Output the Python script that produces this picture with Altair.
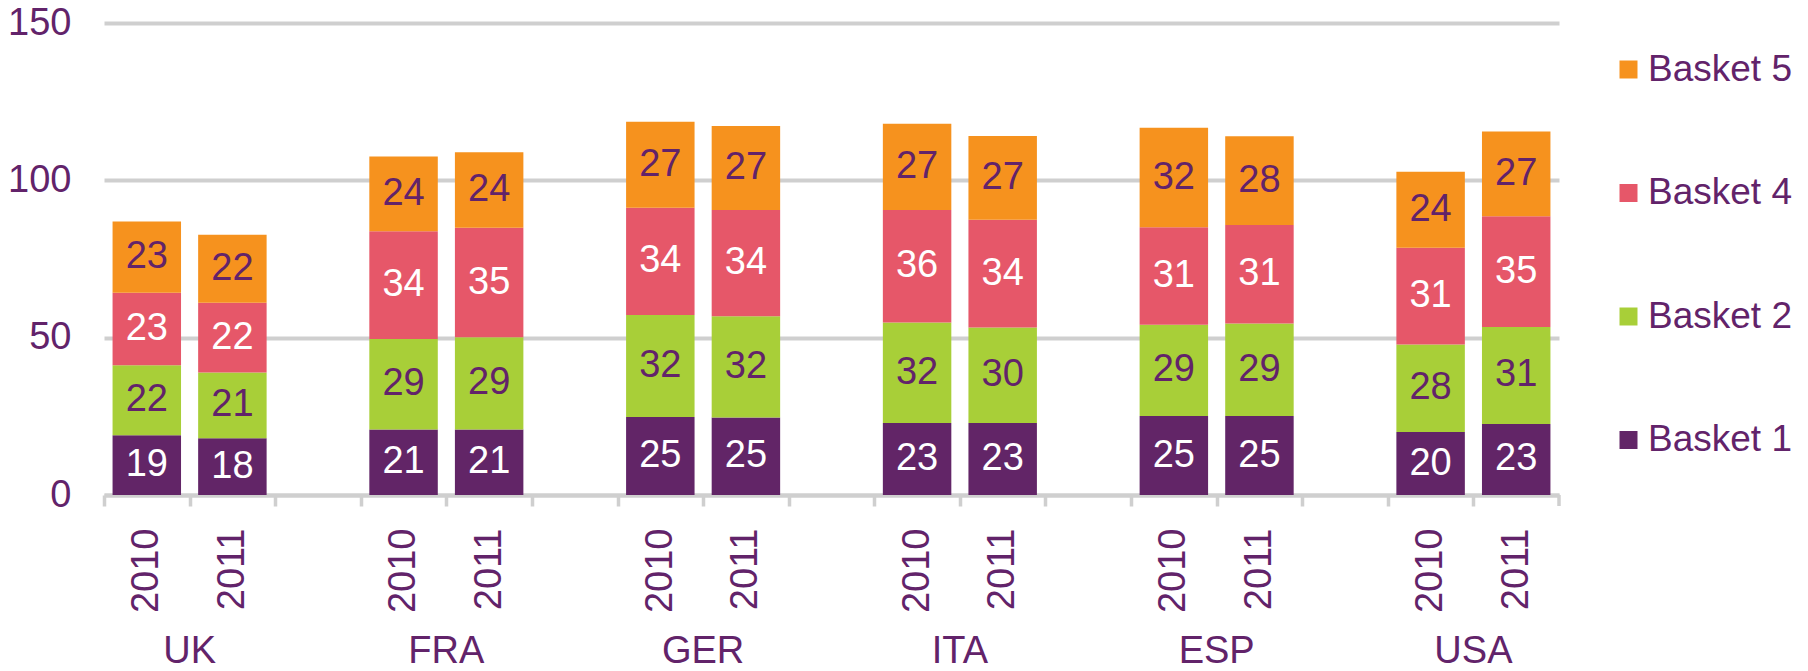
import altair as alt
import pandas as pd

countries = ["UK", "FRA", "GER", "ITA", "ESP", "USA"]
years = ["2010", "2011"]
baskets = ["Basket 1", "Basket 2", "Basket 4", "Basket 5"]
# values in order UK2010, UK2011, FRA2010, FRA2011, ...
basket1 = [19.0, 18.0, 20.8, 20.8, 24.8, 24.6, 22.9, 22.9, 25.1, 25.1, 20.0, 22.6]
basket2 = [22.2, 20.9, 28.8, 29.3, 32.4, 32.2, 31.9, 30.3, 29.0, 29.4, 27.8, 30.8]
basket4 = [23.1, 22.2, 34.2, 34.8, 34.1, 33.8, 35.8, 34.3, 31.0, 31.3, 30.8, 35.2]
basket5 = [22.6, 21.6, 23.8, 24.0, 27.3, 26.7, 27.4, 26.6, 31.6, 28.2, 24.1, 26.9]
series = {"Basket 1": basket1, "Basket 2": basket2, "Basket 4": basket4, "Basket 5": basket5}

PURPLE = "#62236a"
COLORS = {"Basket 5": "#f6921e", "Basket 4": "#e65769", "Basket 2": "#a8cf38", "Basket 1": "#622567"}
GRID = "#cfcfcf"
FONT = "Liberation Sans"
FS = 38

W, H = 1455, 472
keys = []
for i, c in enumerate(countries):
    keys += [f"{c}|2010", f"{c}|2011"]
    if i < len(countries) - 1:
        keys.append(f"{c}|")
STEP = W / len(keys)

rows = []
idx = 0
for c in countries:
    for y in years:
        base = 0.0
        for b in baskets:
            v = series[b][idx]
            rows.append({"key": f"{c}|{y}", "basket": b, "value": v,
                         "y0": base, "y1": base + v, "mid": base + v / 2})
            base += v
        idx += 1
df = pd.DataFrame(rows)
cdf = pd.DataFrame({"country": countries, "key": [f"{c}|2010" for c in countries]})
edf = pd.DataFrame({"key": [keys[-1]]})

xscale = alt.Scale(domain=keys, paddingInner=0.2, paddingOuter=0.1)
xenc = alt.X("key:N", scale=xscale, title=None,
             axis=alt.Axis(labelExpr="split(datum.value, '|')[1]", labelAngle=-90,
                           labelFontSize=FS, labelColor=PURPLE, labelFont=FONT,
                           labelPadding=22, labelOverlap=False, labelFlush=False,
                           labelOffset=STEP / 2,
                           tickSize=11, tickWidth=3.5, tickColor=GRID, tickOffset=-STEP / 2,
                           domainColor=GRID, domainWidth=4, grid=False))

bars = alt.Chart(df).mark_bar(size=STEP * 0.8).encode(
    x=xenc,
    y=alt.Y("y0:Q", scale=alt.Scale(domain=[0, 150], nice=False), title=None,
            axis=alt.Axis(values=[0, 50, 100, 150], grid=True, gridColor=GRID, gridWidth=4,
                          domain=False, ticks=False, labelPadding=33, labelFontSize=FS,
                          labelColor=PURPLE, labelFont=FONT)),
    y2="y1:Q",
    color=alt.Color("basket:N",
                    scale=alt.Scale(domain=["Basket 5", "Basket 4", "Basket 2", "Basket 1"],
                                    range=[COLORS[k] for k in ["Basket 5", "Basket 4", "Basket 2", "Basket 1"]]),
                    legend=alt.Legend(orient="none", legendX=1506, legendY=28, title=None,
                                      symbolType="square", symbolSize=324, symbolStrokeWidth=0,
                                      labelFontSize=37, labelColor=PURPLE, labelFont=FONT,
                                      labelOffset=1, rowPadding=85.5, padding=0)),
)

labels = alt.Chart(df).mark_text(fontSize=FS, font=FONT, align="center", baseline="middle").encode(
    x=alt.X("key:N", scale=xscale),
    y=alt.Y("mid:Q"),
    text=alt.Text("value:Q", format=".0f"),
    color=alt.condition(alt.FieldOneOfPredicate(field="basket", oneOf=["Basket 1", "Basket 4"]),
                        alt.value("white"), alt.value(PURPLE)),
)

country_text = alt.Chart(cdf).mark_text(fontSize=FS, font=FONT, align="center",
                                        baseline="alphabetic", color=PURPLE,
                                        xOffset=STEP / 2).encode(
    x=alt.X("key:N", scale=xscale),
    y=alt.value(640),
    text="country:N",
)

end_tick = alt.Chart(edf).mark_rule(color=GRID, strokeWidth=3.5, xOffset=STEP / 2).encode(
    x=alt.X("key:N", scale=xscale),
    y=alt.value(H),
    y2=alt.value(H + 11),
)

chart = alt.layer(bars, labels, country_text, end_tick).properties(
    width=W, height=H,
    autosize=alt.AutoSizeParams(type="none"),
    padding={"left": 96, "top": 15, "right": 241, "bottom": 176},
).configure(font=FONT).configure_view(stroke=None)

chart.save("out.html", embed_options={"renderer": "svg", "actions": False})
